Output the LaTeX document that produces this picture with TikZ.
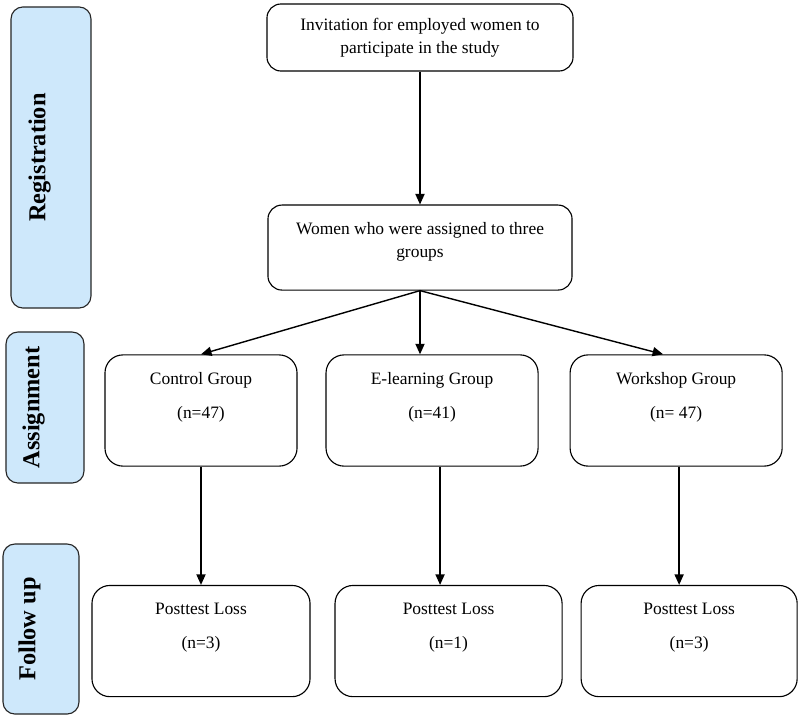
\documentclass[tikz,border=0pt]{standalone}
\usepackage{fontspec}
\setmainfont{Liberation Serif}
\usetikzlibrary{arrows.meta, positioning}
\definecolor{phaseblue}{RGB}{206,232,251}

\begin{document}
\begin{tikzpicture}[x=0.025cm,y=-0.025cm,>={Triangle[length=7.5pt,width=6.5pt]}]
 \tikzstyle{mainbox}=[rectangle,draw=black,thick,rounded corners=0.35cm,
   inner sep=0pt,align=center,font=\fontsize{12.4}{16.3}\selectfont]
 \tikzstyle{groupbox}=[mainbox,rounded corners=0.45cm,minimum height=2.78cm]
 \tikzstyle{phasebox}=[rectangle,draw=black!85,thick,rounded corners=0.3cm,
   fill=phaseblue,rotate=90,inner sep=0pt,text height=12pt,text depth=20pt,
   font=\fontsize{17.3}{20}\selectfont\bfseries]
 \useasboundingbox (0,0) rectangle (799,716);
 % phases on the left
 \node (reg) [phasebox,minimum width=7.525cm,minimum height=2cm] at (51,157.5) {Registration};
 \node (asg) [phasebox,minimum width=3.775cm,minimum height=1.95cm] at (45,407.5) {Assignment};
 \node (fol) [phasebox,minimum width=4.25cm,minimum height=1.9cm] at (41,629) {Follow up};
 % registration
 \node (inv) [mainbox,minimum width=7.65cm,minimum height=1.675cm] at (420,37.5)
   {Invitation for employed women to\\participate in the study};
 \node (wom) [mainbox,minimum width=7.6cm,minimum height=2.125cm,
   below of=inv,node distance=5.25cm]
   {Women who were assigned to three\\groups\\[-10pt]\strut};
 % groups
 \node (cg) [groupbox,minimum width=4.8cm] at (201,410.5)
   {Control Group\\[7.7pt](n=47)\\[0.5pt]\strut};
 \node (eg) [groupbox,minimum width=5.3cm,right of=cg,node distance=5.775cm]
   {E-learning Group\\[7.7pt](n=41)\\[0.5pt]\strut};
 \node (wg) [groupbox,minimum width=5.3cm,right of=eg,node distance=6.1cm]
   {Workshop Group\\[7.7pt](n= 47)\\[0.5pt]\strut};
 % follow up
 \node (pc) [groupbox,minimum width=5.45cm,below of=cg,node distance=5.7625cm]
   {Posttest Loss\\[7.7pt](n=3)\\[0.5pt]\strut};
 \node (pe) [groupbox,minimum width=5.675cm,below of=eg,node distance=5.7625cm,xshift=0.4125cm]
   {Posttest Loss\\[7.7pt](n=1)\\[0.5pt]\strut};
 \node (pw) [groupbox,minimum width=5.4cm,below of=wg,node distance=5.7625cm,xshift=0.325cm]
   {Posttest Loss\\[7.7pt](n=3)\\[0.5pt]\strut};
 \draw[->,line width=1pt] (inv.south) -- (inv.south |- wom.north);
 \draw[->,line width=1pt] (wom.south) -- (cg.north);
 \draw[->,line width=1pt] (wom.south) -- (wom.south |- eg.north);
 \draw[->,line width=1pt] (wom.south) -- ([xshift=-0.325cm]wg.north);
 \draw[->,line width=1pt] (cg.south) -- (cg.south |- pc.north);
 \draw[->,line width=1pt] ([xshift=0.2cm]eg.south) -- ([xshift=0.2cm]eg.south |- pe.north);
 \draw[->,line width=1pt] ([xshift=0.075cm]wg.south) -- ([xshift=0.075cm]wg.south |- pw.north);
\end{tikzpicture}
\end{document}
